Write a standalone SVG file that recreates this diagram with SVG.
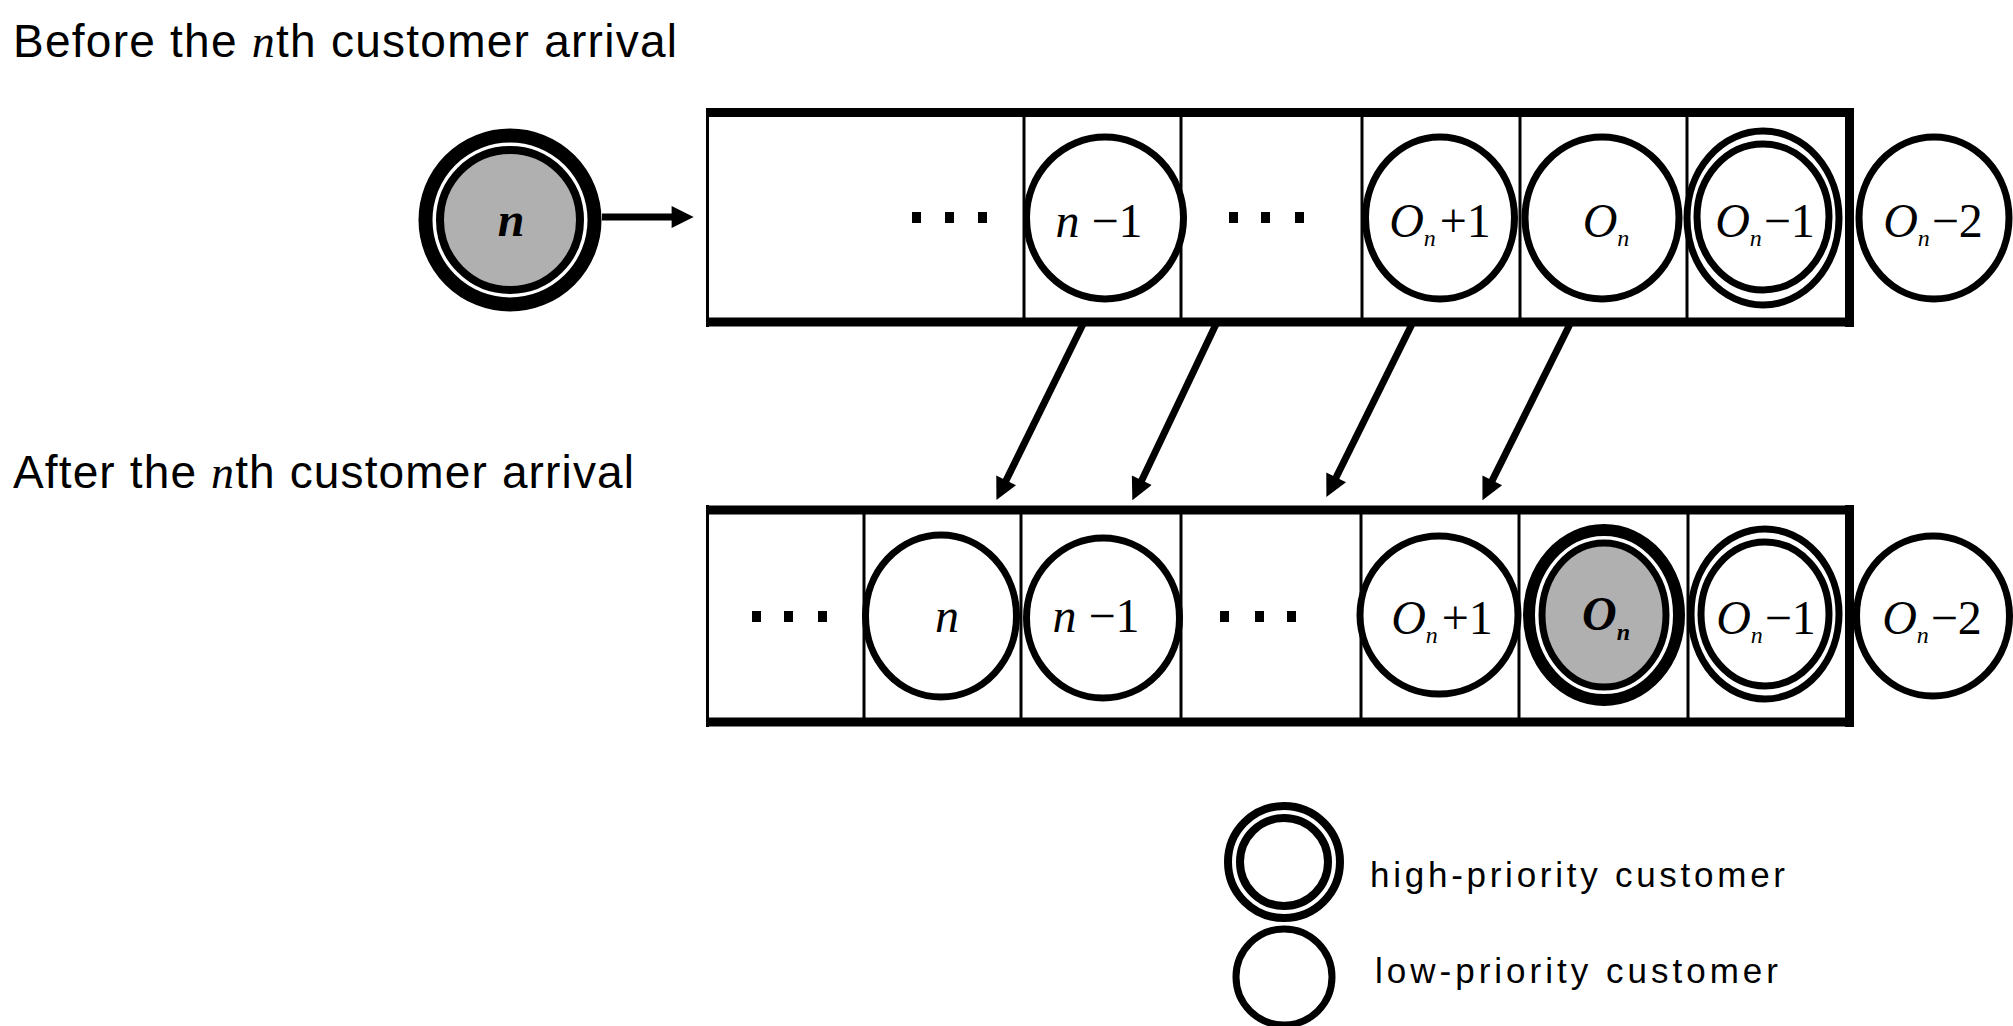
<svg xmlns="http://www.w3.org/2000/svg" width="2013" height="1026" viewBox="0 0 2013 1026">
<style>
.title{font-family:"Liberation Sans",Arial,sans-serif;font-size:46px;fill:#000}
.legend{font-family:"Liberation Sans",Arial,sans-serif;font-size:35px;fill:#000}
.it{font-family:"Liberation Serif","Times New Roman",serif;font-style:italic}
.lbl{font-family:"Liberation Serif","Times New Roman",serif;font-size:48px;text-anchor:middle;fill:#000}
.sub{font-size:24px;font-style:italic}
.thin{stroke:#000;stroke-width:3;fill:none}
.thick{stroke:#000;stroke-width:9;fill:none}
.cust{fill:#fff;stroke:#000;stroke-width:7}
.ring{fill:none;stroke:#000}
.gray{fill:#b0b0b0}
.dot{fill:#000}
.conn{stroke:#000;stroke-width:7;fill:none}
</style>
<defs>
<marker id="ah" viewBox="0 0 10 10" refX="2" refY="5" markerUnits="userSpaceOnUse" markerWidth="26" markerHeight="22" orient="auto">
<path d="M0,0 L10,5 L0,10 z" fill="#000"/>
</marker>
</defs>
<rect width="2013" height="1026" fill="#fff"/>

<g id="titles">
<text class="title" x="13" y="57" textLength="664" lengthAdjust="spacing">Before the <tspan class="it">n</tspan>th customer arrival</text>
<text class="title" x="13" y="488" textLength="621" lengthAdjust="spacing">After the <tspan class="it">n</tspan>th customer arrival</text>
</g>

<g id="queue-before">
<line class="thin" x1="707.5" y1="108" x2="707.5" y2="327"/>
<line class="thin" x1="1024" y1="112" x2="1024" y2="322"/>
<line class="thin" x1="1181" y1="112" x2="1181" y2="322"/>
<line class="thin" x1="1362" y1="112" x2="1362" y2="322"/>
<line class="thin" x1="1520" y1="112" x2="1520" y2="322"/>
<line class="thin" x1="1687" y1="112" x2="1687" y2="322"/>
<line class="thick" x1="706" y1="112.5" x2="1854" y2="112.5"/>
<line class="thick" x1="706" y1="322" x2="1854" y2="322"/>
<rect class="dot" x="912" y="212" width="9" height="11"/>
<rect class="dot" x="945" y="212" width="9" height="11"/>
<rect class="dot" x="978" y="212" width="9" height="11"/>
<rect class="dot" x="1229" y="212" width="9" height="11"/>
<rect class="dot" x="1261" y="212" width="9" height="11"/>
<rect class="dot" x="1295" y="212" width="9" height="11"/>
</g>

<g id="queue-after">
<line class="thin" x1="707.5" y1="505" x2="707.5" y2="727"/>
<line class="thin" x1="864" y1="510" x2="864" y2="722"/>
<line class="thin" x1="1021" y1="510" x2="1021" y2="722"/>
<line class="thin" x1="1181" y1="510" x2="1181" y2="722"/>
<line class="thin" x1="1361" y1="510" x2="1361" y2="722"/>
<line class="thin" x1="1519" y1="510" x2="1519" y2="722"/>
<line class="thin" x1="1688" y1="510" x2="1688" y2="722"/>
<line class="thick" x1="706" y1="510" x2="1854" y2="510"/>
<line class="thick" x1="706" y1="722" x2="1854" y2="722"/>
<rect class="dot" x="752" y="611" width="9" height="11"/>
<rect class="dot" x="784" y="611" width="9" height="11"/>
<rect class="dot" x="818" y="611" width="9" height="11"/>
<rect class="dot" x="1220" y="611" width="9" height="11"/>
<rect class="dot" x="1255" y="611" width="9" height="11"/>
<rect class="dot" x="1287" y="611" width="9" height="11"/>
</g>

<g id="arriving-n">
<circle class="gray" cx="510" cy="220" r="70"/>
<circle class="ring" cx="510" cy="220" r="84.5" stroke-width="14"/>
<circle class="ring" cx="510" cy="220" r="70" stroke-width="8"/>
<text class="lbl" x="511" y="236" font-size="56" font-weight="bold"><tspan class="it">n</tspan></text>
</g>

<g id="before-n-1">
<ellipse class="cust" cx="1105" cy="218" rx="78.5" ry="81"/>
<text class="lbl" x="1099" y="237"><tspan class="it">n</tspan> −1</text>
</g>
<g id="before-On+1">
<ellipse class="cust" cx="1440" cy="218" rx="74.5" ry="81"/>
<text class="lbl" x="1440" y="237"><tspan class="it">O</tspan><tspan class="sub" dy="9">n</tspan><tspan dy="-9" dx="4">+1</tspan></text>
</g>
<g id="before-On">
<ellipse class="cust" cx="1602" cy="218" rx="77" ry="81"/>
<text class="lbl" x="1606" y="237"><tspan class="it">O</tspan><tspan class="sub" dy="9">n</tspan></text>
</g>
<g id="before-On-1">
<ellipse class="cust" cx="1763" cy="218" rx="76" ry="87" stroke-width="8"/>
<ellipse class="ring" cx="1763" cy="217" rx="66" ry="73" stroke-width="7"/>
<text class="lbl" x="1765" y="237"><tspan class="it">O</tspan><tspan class="sub" dy="9">n</tspan><tspan dy="-9" dx="2">−1</tspan></text>
</g>
<g id="before-On-2">
<ellipse class="cust" cx="1934" cy="218" rx="75" ry="81"/>
<text class="lbl" x="1933" y="237"><tspan class="it">O</tspan><tspan class="sub" dy="9">n</tspan><tspan dy="-9" dx="2">−2</tspan></text>
</g>

<g id="after-n">
<ellipse class="cust" cx="941" cy="616" rx="75.5" ry="81"/>
<text class="lbl" x="947" y="632"><tspan class="it">n</tspan></text>
</g>
<g id="after-n-1">
<ellipse class="cust" cx="1103" cy="618" rx="76.5" ry="80"/>
<text class="lbl" x="1096" y="632"><tspan class="it">n</tspan> −1</text>
</g>
<g id="after-On+1">
<ellipse class="cust" cx="1439" cy="615" rx="79" ry="79"/>
<text class="lbl" x="1442" y="634"><tspan class="it">O</tspan><tspan class="sub" dy="9">n</tspan><tspan dy="-9" dx="4">+1</tspan></text>
</g>
<g id="after-On">
<ellipse class="gray" cx="1604" cy="615" rx="64" ry="74"/>
<ellipse class="ring" cx="1604" cy="615" rx="75" ry="85" stroke-width="12"/>
<ellipse class="ring" cx="1604" cy="615" rx="62" ry="72" stroke-width="7"/>
<text class="lbl" x="1606" y="630" font-weight="bold"><tspan class="it">O</tspan><tspan class="sub" dy="10">n</tspan></text>
</g>
<g id="after-On-1">
<ellipse class="cust" cx="1765" cy="614" rx="74" ry="85" stroke-width="8"/>
<ellipse class="ring" cx="1765" cy="614" rx="64" ry="72" stroke-width="7"/>
<text class="lbl" x="1766" y="634"><tspan class="it">O</tspan><tspan class="sub" dy="9">n</tspan><tspan dy="-9" dx="2">−1</tspan></text>
</g>
<g id="after-On-2">
<ellipse class="cust" cx="1933" cy="616" rx="76.5" ry="80"/>
<text class="lbl" x="1932" y="634"><tspan class="it">O</tspan><tspan class="sub" dy="9">n</tspan><tspan dy="-9" dx="2">−2</tspan></text>
</g>

<g id="right-borders">
<line class="thick" x1="1849.5" y1="108" x2="1849.5" y2="327"/>
<line class="thick" x1="1849.5" y1="505" x2="1849.5" y2="727"/>
</g>

<g id="connectors">
<line class="conn" x1="602" y1="217" x2="676" y2="217" marker-end="url(#ah)"/>
<line class="conn" x1="1085" y1="320" x2="1004.2" y2="484.3" marker-end="url(#ah)"/>
<line class="conn" x1="1218" y1="320" x2="1139.9" y2="484.3" marker-end="url(#ah)"/>
<line class="conn" x1="1414" y1="320" x2="1334.2" y2="481.3" marker-end="url(#ah)"/>
<line class="conn" x1="1572" y1="320" x2="1490.3" y2="484.4" marker-end="url(#ah)"/>
</g>

<g id="legend-high">
<circle class="ring" cx="1284" cy="862" r="56" stroke-width="8"/>
<circle class="ring" cx="1284" cy="862" r="44" stroke-width="8"/>
<text class="legend" x="1370" y="887" textLength="415" lengthAdjust="spacing">high-priority customer</text>
</g>
<g id="legend-low">
<circle class="ring" cx="1284" cy="977" r="48" stroke-width="7"/>
<text class="legend" x="1375" y="983" textLength="403" lengthAdjust="spacing">low-priority customer</text>
</g>
</svg>
